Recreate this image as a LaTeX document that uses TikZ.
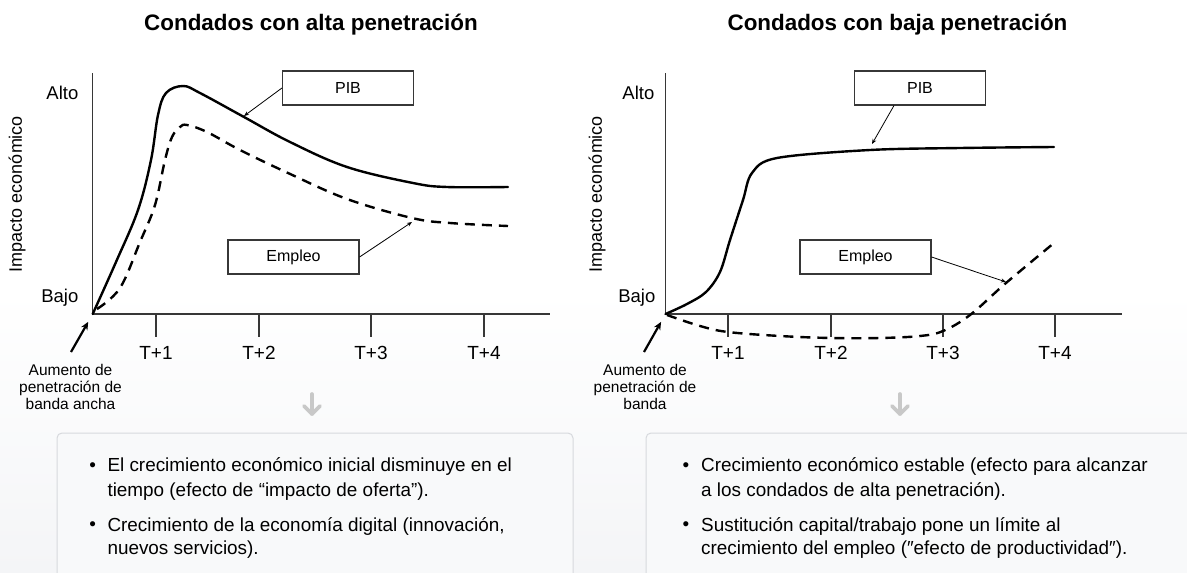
\documentclass[tikz,border=0pt]{standalone}
\usepackage{fontspec}
\setmainfont{Liberation Sans}
\usetikzlibrary{arrows.meta}
\definecolor{axisgray}{RGB}{55,55,55}
\definecolor{boxfill}{RGB}{248,249,250}
\definecolor{boxline}{RGB}{215,217,221}
\definecolor{arrowgray}{RGB}{200,200,200}
\definecolor{bgbottom}{RGB}{244,245,247}
\tikzset{
  axisline/.style={draw=axisgray, line width=1.3pt},
  tickline/.style={draw=axisgray, line width=1.3pt},
  curvesolid/.style={draw=black, line width=2.4pt, line cap=round},
  curvedash/.style={draw=black, line width=2.4pt, dash pattern=on 10pt off 7pt},
  labelbox/.style={draw=axisgray, line width=1.1pt, fill=white, minimum width=131pt, minimum height=34pt, inner sep=0pt, font=\fontsize{16}{18}\selectfont},
  conn/.style={draw=black, line width=0.8pt, -{Stealth[length=5pt,width=4pt]}},
  bigarrow/.style={draw=black, line width=2.2pt, -{Stealth[length=8pt,width=7pt]}},
  ylab/.style={font=\fontsize{18.5}{20}\selectfont, anchor=east, inner sep=0pt},
  tlab/.style={font=\fontsize{19}{22}\selectfont},
  ttl/.style={font=\bfseries\fontsize{22.4}{26}\selectfont},
  aum/.style={font=\fontsize{15.5}{17}\selectfont, align=center},
  vlab/.style={font=\fontsize{18}{20}\selectfont, rotate=90},
  bullettext/.style={font=\fontsize{18.9}{22}\selectfont, anchor=west, inner sep=0pt},
  bulletdot/.style={font=\fontsize{18.9}{22}\selectfont, inner sep=0pt},
  infobox/.style={draw=boxline, fill=boxfill, line width=1pt, rounded corners=5pt},
  downarrow/.style={draw=arrowgray, line width=3.6pt, line cap=round, line join=round}
}
\begin{document}
\begin{tikzpicture}[x=1pt,y=-1pt]
\useasboundingbox (0,0) rectangle (1187,573);
\clip (0,0) rectangle (1187,573);
\fill[white] (0,0) rectangle (1187,290);
\shade[top color=white,bottom color=bgbottom] (0,290) rectangle (1187,573);

% ---------------- Left panel ----------------
\node[ttl] (t1) at (311,25) {Condados con alta penetración};
\coordinate (o1) at (92.7,314);
\draw[axisline] (92.7,73) -- (o1) -- (550,314);
\foreach \x/\t in {156/T+1,259/T+2,371/T+3,484/T+4}{
  \draw[tickline] (\x,314) -- (\x,337);
  \node[tlab] (l\t) at (\x,353) {\t};
}
\node[ylab] (alto1) at (78.5,93) {Alto};
\node[ylab] (bajo1) at (78.5,298) {Bajo};
\node[vlab] (imp1) at (17,194) {Impacto económico};

\draw[curvesolid] plot[smooth, tension=0.6] coordinates {(92.7,314) (116,262) (138,210) (151,160) (158,115) (166,93) (183,86) (200,93) (244,117) (290,142) (347,167) (413,183) (447,187) (508,187)};
\draw[curvedash] plot[smooth, tension=0.6] coordinates {(97,309) (120,288) (140,242) (155,205) (165,160) (172,137) (180,127) (187,125) (207,132) (240,150) (288,173) (347,199) (412,218) (450,223) (508,226)};

\node[labelbox] (pib1) at (348,88) {PIB};
\node[labelbox] (emp1) at (293.5,257) {Empleo};
\coordinate (p1) at (244,116);
\coordinate (e1) at (412,222);
\draw[conn] (pib1.west) -- (p1);
\draw[conn] (emp1.east) -- (e1);

\coordinate (a1t) at (71,352);
\draw[bigarrow, shorten >=9pt] (a1t) -- (o1);
\node[aum] (aum1) at (70.5,387) {Aumento de\\penetración de\\banda ancha};

\draw[downarrow] (312,394) -- (312,414);
\draw[downarrow] (304,406) -- (312,414) -- (320,406);

\draw[infobox] (57,433) rectangle (573,610);
\node[bulletdot] (b1) at (92.7,466.7) {•};
\node[bullettext] (b1a) at (107.3,466.7) {El crecimiento económico inicial disminuye en el};
\node[bullettext] (b1b) at (107.3,491.7) {tiempo (efecto de “impacto de oferta”).};
\node[bulletdot] (b2) at (92.7,526) {•};
\node[bullettext] (b2a) at (107.3,526) {Crecimiento de la economía digital (innovación,};
\node[bullettext] (b2b) at (107.3,550) {nuevos servicios).};

% ---------------- Right panel ----------------
\node[ttl] (t2) at (897.5,25) {Condados con baja penetración};
\coordinate (o2) at (665.5,314);
\draw[axisline] (665.5,73) -- (o2) -- (1122,314);
\foreach \x/\t in {728/T+1,831/T+2,943/T+3,1055/T+4}{
  \draw[tickline] (\x,314) -- (\x,337);
  \node[tlab] (r\t) at (\x,353) {\t};
}
\node[ylab] (alto2) at (654.5,93) {Alto};
\node[ylab] (bajo2) at (655.5,298) {Bajo};
\node[vlab] (imp2) at (597,194) {Impacto económico};

\draw[curvesolid] plot[smooth, tension=0.55] coordinates {(665.5,314) (687,304) (706,292) (720,272) (730,240) (743,200) (752,173) (777,158) (870,150) (960,148) (1054,147)};
\draw[curvedash] plot[smooth, tension=0.6] coordinates {(667,315) (700,326) (728,332) (780,336) (831,338) (880,338) (920,336) (943,331) (970,315) (1006,283) (1054,243)};

\node[labelbox] (pib2) at (920,88) {PIB};
\node[labelbox] (emp2) at (865.5,257) {Empleo};
\coordinate (p2) at (872,144);
\coordinate (e2) at (1006,282);
\draw[conn] ([xshift=-26pt]pib2.south) -- (p2);
\draw[conn] (emp2.east) -- (e2);

\coordinate (a2t) at (644,352);
\draw[bigarrow, shorten >=9pt] (a2t) -- (o2);
\node[aum] (aum2) at (645,387) {Aumento de\\penetración de\\banda};

\draw[downarrow] (900,394) -- (900,414);
\draw[downarrow] (892,406) -- (900,414) -- (908,406);

\draw[infobox] (646,433) rectangle (1210,610);
\node[bulletdot] (b3) at (686,466.7) {•};
\node[bullettext] (b3a) at (701,466.7) {Crecimiento económico estable (efecto para alcanzar};
\node[bullettext] (b3b) at (701,491.7) {a los condados de alta penetración).};
\node[bulletdot] (b4) at (686,526) {•};
\node[bullettext] (b4a) at (701,526) {Sustitución capital/trabajo pone un límite al};
\node[bullettext] (b4b) at (701,550) {crecimiento del empleo (″efecto de productividad″).};
\end{tikzpicture}
\end{document}
